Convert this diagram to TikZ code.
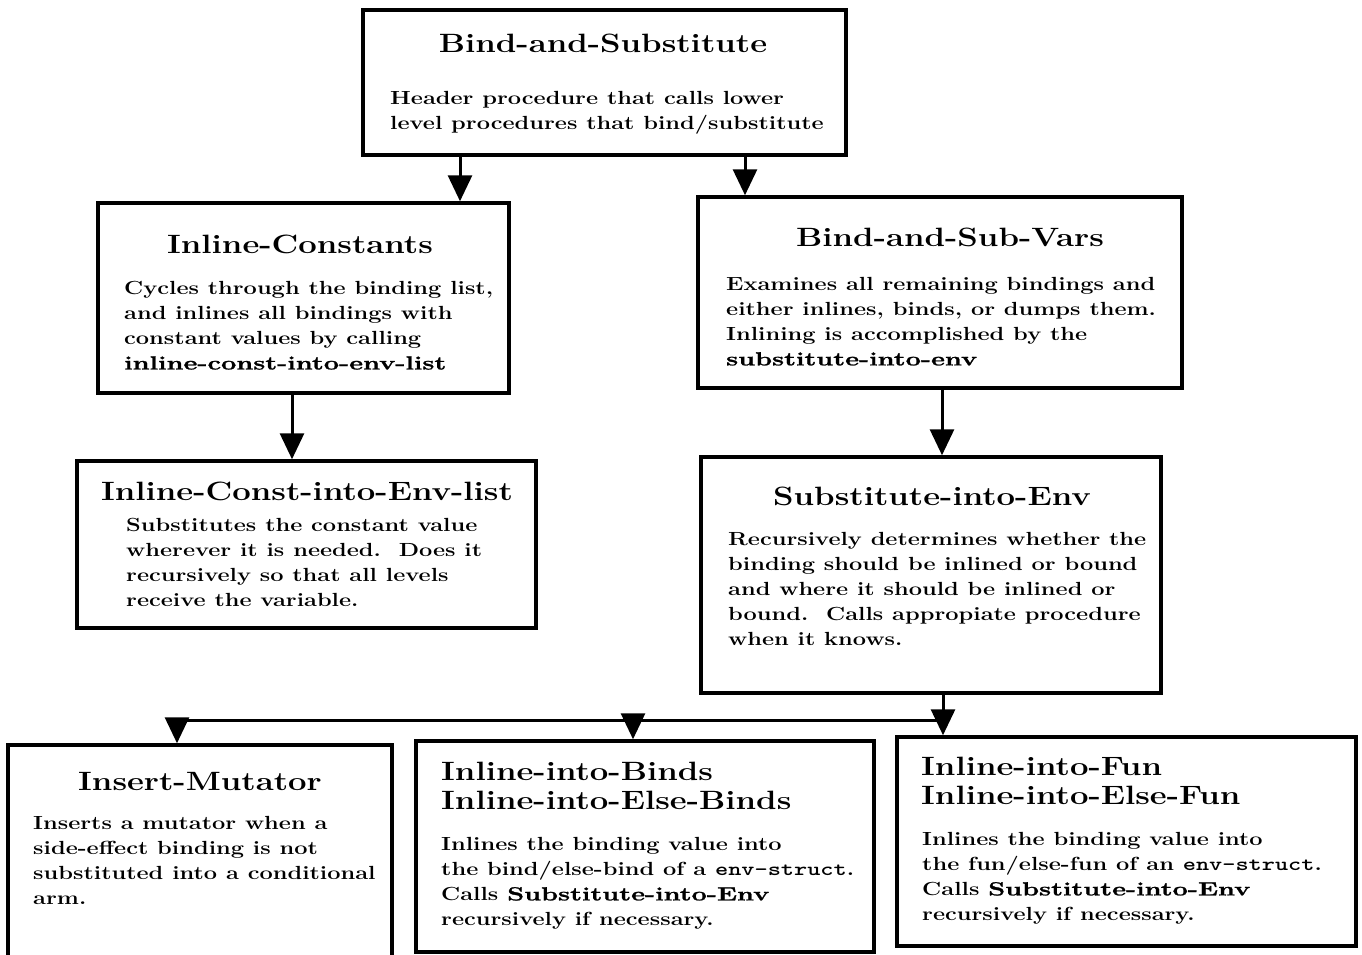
\documentclass[tikz,border=0pt]{standalone}
\usepackage{fontspec}
\usepackage{graphicx}
\setmainfont{Latin Modern Roman}[FakeStretch=1.24]
\newfontfamily\heavyfam{Latin Modern Roman}[FakeStretch=1.24,BoldFeatures={FakeStretch=1.24,FakeBold=1.2}]
\usetikzlibrary{arrows.meta}
\newcommand{\hvy}[1]{\scalebox{1.15}[1]{\heavyfam\bfseries #1}}
\newcommand{\envst}{\scalebox{1.32}[1]{\ttfamily\bfseries env-struct}}
\begin{document}
\begin{tikzpicture}[x=1pt,y=-1pt,
  box/.style={draw,line width=3.5pt,rectangle,inner sep=0pt},
  ttl/.style={inner sep=0pt,font=\fontsize{26.5}{29}\selectfont\bfseries},
  ttlL/.style={inner sep=0pt,anchor=north west,align=left,font=\fontsize{26.5}{29}\selectfont\bfseries},
  bodyB/.style={inner sep=0pt,anchor=north west,align=left,font=\fontsize{19}{25}\selectfont\bfseries},
  conn/.style={line width=3pt},
  arr/.style={line width=3pt,-{Triangle[width=24pt,length=26pt]}}]
\useasboundingbox (0,0) rectangle (1362,954);
\fill[white] (0,0) rectangle (1362,954);
\begin{scope}
\clip (0,0) rectangle (1362,954);
% boxes
\node[box,minimum width=483pt,minimum height=145pt] (b1) at (604.5,82.5) {};
\node[box,minimum width=411pt,minimum height=190pt] (b2) at (303.5,298) {};
\node[box,minimum width=484pt,minimum height=191pt] (b3) at (940,292.5) {};
\node[box,minimum width=459pt,minimum height=167pt] (b4) at (306.5,544.5) {};
\node[box,minimum width=460pt,minimum height=236pt] (b5) at (931,575) {};
\node[box,minimum width=384pt,minimum height=240pt] (b6) at (200,865) {};
\node[box,minimum width=458pt,minimum height=211pt] (b7) at (645,846.5) {};
\node[box,minimum width=459pt,minimum height=209pt] (b8) at (1126.5,841.5) {};
\end{scope}
% titles
\node[ttl] (t1) at (603,43) {Bind-and-Substitute};
\node[ttl] (t2) at (300,244) {Inline-Constants};
\node[ttl] (t3) at (950,237) {Bind-and-Sub-Vars};
\node[ttl] (t4) at (307,491) {Inline-Const-into-Env-list};
\node[ttl] (t5) at (932,496) {Substitute-into-Env};
\node[ttl] (t6) at (200,781) {Insert-Mutator};
\node[ttlL] (t7) at (441,762) {Inline-into-Binds\\Inline-into-Else-Binds};
\node[ttlL] (t8) at (921,757) {Inline-into-Fun\\Inline-into-Else-Fun};
% bodies
\node[bodyB] (d1) at (390,91) {Header procedure that calls lower\\level procedures that bind/substitute};
\node[bodyB] (d2) at (124,281) {Cycles through the binding list,\\and inlines all bindings with\\constant values by calling\\\hvy{inline-const-into-env-list}};
\node[bodyB] (d3) at (726,277) {Examines all remaining bindings and\\either inlines, binds, or dumps them.\\Inlining is accomplished by the\\\hvy{substitute-into-env}};
\node[bodyB] (d4) at (126,518) {Substitutes the constant value\\wherever it is needed.\ \ Does it\\recursively so that all levels\\receive the variable.};
\node[bodyB] (d5) at (728,532) {Recursively determines whether the\\binding should be inlined or bound\\and where it should be inlined or\\bound.\ \ Calls appropiate procedure\\when it knows.};
\node[bodyB] (d6) at (33,816) {Inserts a mutator when a\\side-effect binding is not\\substituted into a conditional\\arm.};
\node[bodyB] (d7) at (441,837) {Inlines the binding value into\\the bind/else-bind of a \envst.\\Calls \hvy{Substitute-into-Env}\\recursively if necessary.};
\node[bodyB] (d8) at (922,832) {Inlines the binding value into\\the fun/else-fun of an \envst.\\Calls \hvy{Substitute-into-Env}\\recursively if necessary.};
% connector coordinates
\coordinate (xa) at (460,0);
\coordinate (xb) at (745,0);
\coordinate (xc) at (292,0);
\coordinate (xd) at (942,0);
\coordinate (jR) at (943,720);
\coordinate (jM) at (633,720);
\coordinate (jL) at (177,720);
% connectors
\draw[arr] (b1.south -| xa) -- (b2.north -| xa);
\draw[arr] (b1.south -| xb) -- (b3.north -| xb);
\draw[arr] (b2.south -| xc) -- (b4.north -| xc);
\draw[arr] (b3.south -| xd) -- (b5.north -| xd);
\draw[conn] (b5.south -| jR) -- (jR);
\draw[conn] (jR) -- (jL);
\draw[arr] (jR) -- (b8.north -| jR);
\draw[arr] (jM) -- (b7.north -| jM);
\draw[arr] (jL) -- (b6.north -| jL);
\end{tikzpicture}
\end{document}
